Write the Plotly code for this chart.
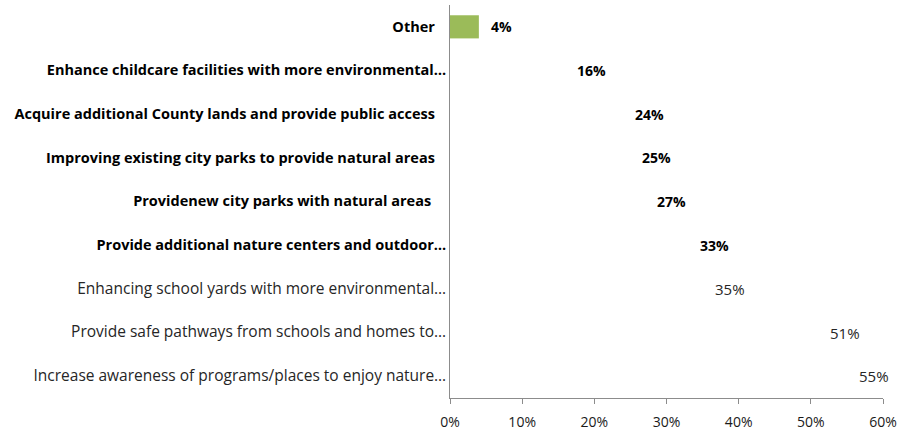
import plotly.graph_objects as go

NB = "\u00a0"
categories = [
    "Increase awareness of programs/places to enjoy nature…",
    "Provide safe pathways from schools and homes to…",
    "Enhancing school yards with more environmental…",
    "Provide additional nature centers and outdoor…",
    "Providenew city parks with natural areas" + NB * 4,
    "Improving existing city parks to provide natural areas" + NB * 3,
    "Acquire additional County lands and provide public access" + NB * 3,
    "Enhance childcare facilities with more environmental…",
    "Other" + NB * 3,
]
values = [0.55, 0.51, 0.35, 0.33, 0.27, 0.25, 0.24, 0.16, 0.04]
value_labels = ["55%", "51%", "35%", "33%", "27%", "25%", "24%", "16%", "4%"]
bold_flags = [False, False, False, True, True, True, True, True, True]
bar_colors = ["rgba(0,0,0,0)"] * 8 + ["#9BBB59"]
x_ticks = [0, 0.1, 0.2, 0.3, 0.4, 0.5, 0.6]
x_tick_labels = ["0%", "10%", "20%", "30%", "40%", "50%", "60%"]

FONT = "Open Sans"

ticktext = [
    ("<span style='font-size:14.5px'><b>%s</b></span>" % c) if b
    else ("<span style='font-size:15.5px;fill:#262626'>%s</span>" % c)
    for c, b in zip(categories, bold_flags)
]

fig = go.Figure()
fig.add_trace(go.Bar(
    x=values, y=categories, orientation="h",
    marker=dict(color=bar_colors, line=dict(width=0)),
    width=0.53, hoverinfo="skip",
))

for c, v, lab, b in zip(categories, values, value_labels, bold_flags):
    fig.add_annotation(
        x=v, y=c, text=("<b>%s</b>" % lab) if b else lab,
        xanchor="left", yanchor="middle", xshift=10, showarrow=False,
        font=dict(family=FONT, size=14 if b else 15, color="#000000" if b else "#262626"),
    )

fig.update_layout(
    width=898, height=431,
    margin=dict(l=450, r=15, t=5, b=33),
    paper_bgcolor="white", plot_bgcolor="white",
    showlegend=False,
    font=dict(family=FONT, size=14, color="#000000"),
)
fig.update_xaxes(
    range=[0, 0.6], tickvals=x_ticks, ticktext=x_tick_labels, automargin=False,
    showgrid=False, zeroline=False, showline=True, linecolor="#8c8c8c", linewidth=1,
    ticks="outside", ticklen=5, tickcolor="#8c8c8c", ticklabelstandoff=6,
    tickfont=dict(family=FONT, size=14, color="#1a1a1a"),
)
fig.update_yaxes(
    categoryorder="array", categoryarray=categories, automargin=False,
    tickvals=categories, ticktext=ticktext,
    showgrid=False, zeroline=False, showline=True, linecolor="#8c8c8c", linewidth=1,
    ticks="", ticklabelstandoff=0,
    tickfont=dict(family=FONT, size=14, color="#000000"),
)

fig.write_html("out.html", config={"displayModeBar": False},
               post_script="document.body.style.margin='0';")
